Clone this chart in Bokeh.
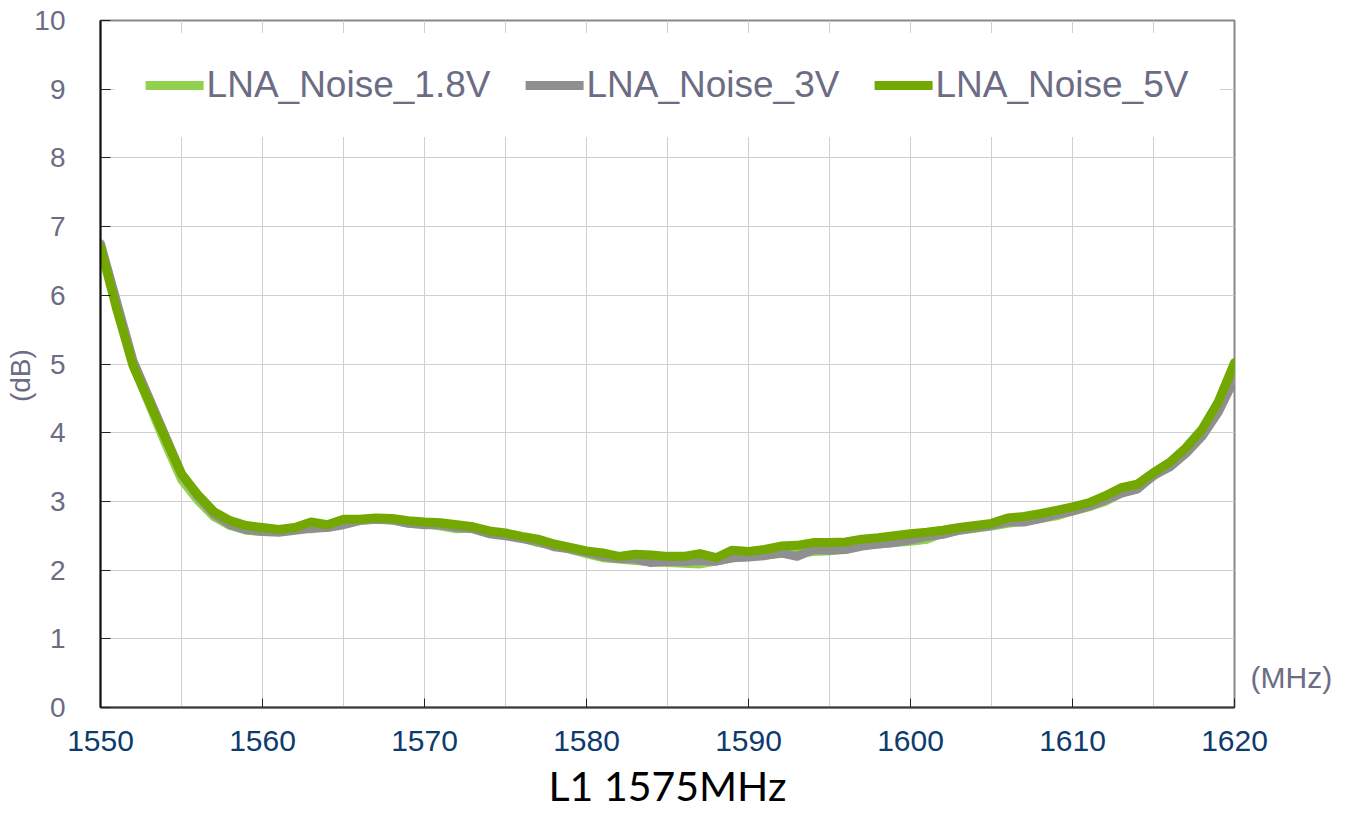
from bokeh.plotting import figure
from bokeh.models import (Legend, LegendItem, FixedTicker, Range1d, LinearAxis,
                          CustomJSTickFormatter)
from bokeh.embed import file_html
from bokeh.resources import INLINE

freq = list(range(1550, 1621))

noise_1v8 = [6.70, 5.85, 5.00, 4.42, 3.85, 3.32, 3.02, 2.78, 2.65, 2.58,
             2.56, 2.57, 2.62, 2.60, 2.64, 2.70, 2.73, 2.75, 2.73, 2.69,
             2.68, 2.64, 2.60, 2.62, 2.55, 2.51, 2.47, 2.40, 2.36, 2.30,
             2.24, 2.18, 2.16, 2.14, 2.12, 2.11, 2.10, 2.09, 2.13, 2.18,
             2.20, 2.22, 2.24, 2.24, 2.27, 2.28, 2.31, 2.36, 2.38, 2.40,
             2.42, 2.45, 2.54, 2.58, 2.61, 2.64, 2.68, 2.71, 2.75, 2.79,
             2.86, 2.92, 3.00, 3.12, 3.20, 3.37, 3.52, 3.72, 3.98, 4.35,
             4.85]

noise_3v = [6.75, 5.90, 5.05, 4.50, 3.95, 3.40, 3.08, 2.82, 2.66, 2.59,
            2.56, 2.55, 2.58, 2.61, 2.62, 2.66, 2.72, 2.74, 2.73, 2.68,
            2.66, 2.66, 2.62, 2.60, 2.53, 2.50, 2.46, 2.42, 2.34, 2.31,
            2.26, 2.20, 2.17, 2.16, 2.11, 2.13, 2.12, 2.14, 2.13, 2.18,
            2.19, 2.21, 2.25, 2.20, 2.30, 2.29, 2.30, 2.35, 2.38, 2.40,
            2.44, 2.49, 2.52, 2.58, 2.62, 2.65, 2.70, 2.70, 2.75, 2.81,
            2.86, 2.93, 3.02, 3.12, 3.18, 3.38, 3.50, 3.70, 3.95, 4.30,
            4.78]

noise_5v = [6.70, 5.80, 4.98, 4.45, 3.92, 3.40, 3.10, 2.85, 2.72, 2.65,
            2.62, 2.59, 2.62, 2.70, 2.66, 2.74, 2.74, 2.76, 2.75, 2.72,
            2.70, 2.69, 2.66, 2.63, 2.57, 2.54, 2.49, 2.45, 2.38, 2.33,
            2.28, 2.25, 2.20, 2.23, 2.22, 2.20, 2.20, 2.24, 2.18, 2.29,
            2.27, 2.30, 2.35, 2.36, 2.40, 2.40, 2.41, 2.45, 2.47, 2.50,
            2.53, 2.55, 2.58, 2.62, 2.65, 2.68, 2.76, 2.78, 2.82, 2.87,
            2.92, 2.98, 3.08, 3.20, 3.25, 3.42, 3.57, 3.78, 4.05, 4.45,
            5.02]

series_names = ["LNA_Noise_1.8V", "LNA_Noise_3V", "LNA_Noise_5V"]
series_colors = ["#92d050", "#8f8f8f", "#72a800"]

x_ticks = [1550, 1560, 1570, 1580, 1590, 1600, 1610, 1620]
y_ticks = list(range(0, 11))
x_unit = "(MHz)"
y_unit = "(dB)"
chart_title = "L1 1575MHz"

TXT = "#6c6c84"
FONT = "Liberation Sans"

p = figure(width=1339, height=812, output_backend="svg", toolbar_location=None,
           x_range=Range1d(1550, 1620), y_range=Range1d(0, 10),
           min_border_left=100, min_border_right=105, min_border_top=20,
           min_border_bottom=104)
p.background_fill_color = "white"
p.border_fill_color = "white"
p.outline_line_color = "#888888"
p.outline_line_width = 2

p.xgrid.ticker = FixedTicker(ticks=list(range(1550, 1621, 5)))
p.ygrid.ticker = FixedTicker(ticks=y_ticks)
for g in (p.xgrid, p.ygrid):
    g.grid_line_color = "#cfcfcf"
    g.grid_line_width = 1

xa = p.xaxis[0]
xa.ticker = FixedTicker(ticks=x_ticks)
xa.axis_line_color = "#3a3a3a"
xa.axis_line_width = 2
xa.major_tick_in = 9
xa.major_tick_out = 0
xa.minor_tick_line_color = None
xa.major_tick_line_color = "#222222"
xa.major_label_text_font = FONT
xa.major_label_text_font_size = "30px"
xa.major_label_text_color = "#0d3b6e"
xa.major_label_standoff = 23
xa.axis_label = chart_title
xa.axis_label_text_font = "Lato"
xa.axis_label_text_font_style = "normal"
xa.axis_label_text_font_size = "41px"
xa.axis_label_text_color = "black"
xa.axis_label_standoff = 7

ya = p.yaxis[0]
ya.ticker = FixedTicker(ticks=y_ticks)
ya.axis_line_color = "#111111"
ya.axis_line_width = 2
ya.major_tick_in = 10
ya.major_tick_out = 0
ya.minor_tick_line_color = None
ya.major_tick_line_color = "#222222"
ya.major_label_text_font = FONT
ya.major_label_text_font_size = "28px"
ya.major_label_text_color = TXT
ya.major_label_standoff = 35
ya.axis_label = y_unit + "\u00a0\u00a0\u00a0"
ya.axis_label_text_font = FONT
ya.axis_label_text_font_style = "normal"
ya.axis_label_text_font_size = "28px"
ya.axis_label_text_color = TXT
ya.axis_label_standoff = -5

# right-hand unit label for the x axis, placed next to the bottom of the frame
ra = LinearAxis(ticker=FixedTicker(ticks=[0.44]),
                formatter=CustomJSTickFormatter(code="return '%s';" % x_unit))
ra.axis_line_color = None
ra.major_tick_line_color = None
ra.minor_tick_line_color = None
ra.major_tick_out = 0
ra.major_label_standoff = 16
ra.major_label_text_font = FONT
ra.major_label_text_font_size = "30px"
ra.major_label_text_color = TXT
p.add_layout(ra, "right")

renderers = []
for vals, name, col in zip([noise_1v8, noise_3v, noise_5v], series_names, series_colors):
    r = p.line(freq, vals, line_color=col, line_width=9, line_cap="round", line_join="round")
    renderers.append(r)

legend = Legend(items=[LegendItem(label=n, renderers=[r]) for n, r in zip(series_names, renderers)],
                orientation="horizontal", location="top_center", margin=13,
                padding=31, spacing=35, glyph_width=58, glyph_height=30,
                label_standoff=3, label_text_font=FONT, label_text_font_size="37px",
                label_text_color=TXT, background_fill_color="white", background_fill_alpha=1.0,
                border_line_color="white", border_line_alpha=0.0, label_height=30)
p.add_layout(legend, "center")

open("out.html", "w").write(file_html(p, INLINE))
